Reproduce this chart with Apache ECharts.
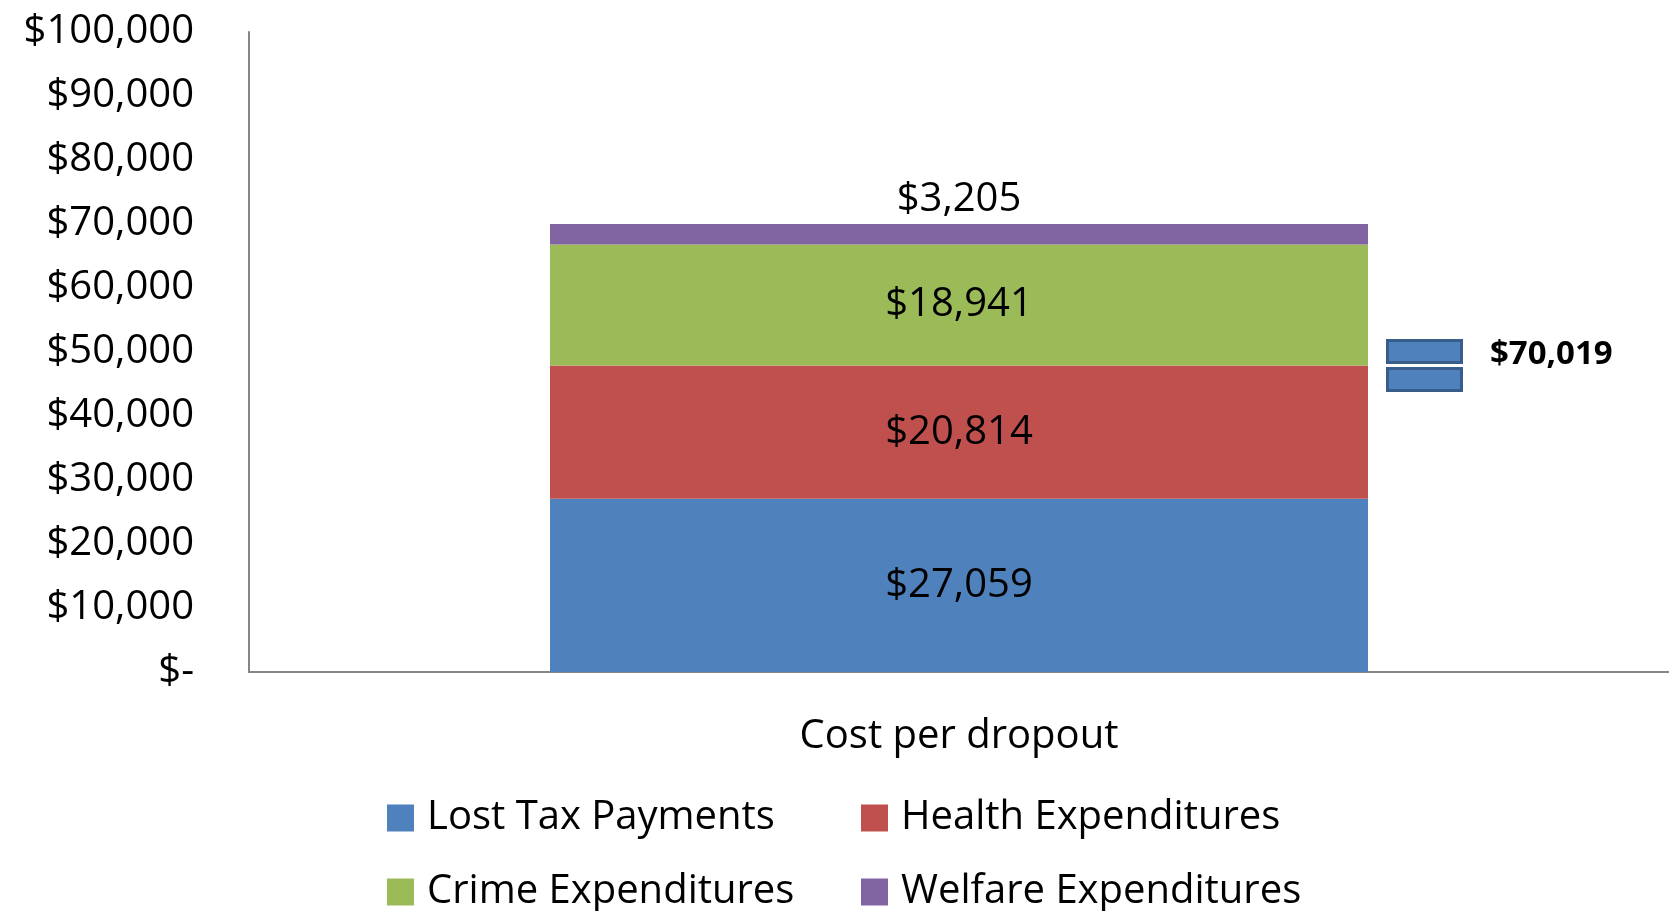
<!DOCTYPE html>
<html>
<head>
<meta charset="utf-8">
<script src="https://cdn.jsdelivr.net/npm/echarts@6/dist/echarts.min.js"></script>
<style>
  html, body { margin: 0; padding: 0; background: #fff; }
  #chart { width: 1669px; height: 911px; }
</style>
</head>
<body>
<div id="chart"></div>
<script>
const categories = ['Cost per dropout'];
const lostTax = [27059];
const health = [20814];
const crime = [18941];
const welfare = [3205];
const seriesNames = ['Lost Tax Payments', 'Health Expenditures', 'Crime Expenditures', 'Welfare Expenditures'];
const colors = ['#4f81bd', '#c0504d', '#9bbb59', '#8064a2'];

const total = lostTax[0] + health[0] + crime[0] + welfare[0];

const font = '"Open Sans", "Noto Sans", sans-serif';
const money = v => v === 0 ? '$-' : '$' + v.toLocaleString('en-US');

function barSeries(name, data, color, pos) {
    return {
        name: name,
        type: 'bar',
        stack: 'cost',
        data: data,
        barWidth: 818,
        itemStyle: { color: color },
        label: {
            show: true,
            position: pos,
            distance: 4,
            color: '#000',
            fontFamily: font,
            fontSize: 40,
            formatter: p => money(p.value)
        }
    };
}

function legendAt(i, left, top) {
    return {
        data: [seriesNames[i]],
        left: left,
        top: top,
        itemWidth: 27,
        itemHeight: 27,
        icon: 'rect',
        textStyle: { fontFamily: font, fontSize: 40, color: '#000', padding: [0, 0, 0, 8] }
    };
}

const chart = echarts.init(document.getElementById('chart'));
chart.setOption({
    animation: false,
    grid: { left: 249, right: 0, top: 32, bottom: 239, containLabel: false },
    legend: [
        legendAt(0, 382, 793),
        legendAt(1, 856, 793),
        legendAt(2, 382, 867),
        legendAt(3, 856, 867)
    ],
    xAxis: {
        type: 'category',
        data: categories,
        axisLine: { lineStyle: { color: '#868686', width: 2 } },
        axisTick: { show: false },
        axisLabel: { color: '#000', fontFamily: font, fontSize: 40, margin: 45 }
    },
    yAxis: {
        type: 'value',
        min: 0,
        max: 100000,
        interval: 10000,
        axisLine: { show: true, lineStyle: { color: '#868686', width: 2 } },
        axisTick: { show: false },
        splitLine: { show: false },
        axisLabel: { color: '#000', fontFamily: font, fontSize: 40, margin: 55, formatter: money }
    },
    series: [
        barSeries(seriesNames[0], lostTax, colors[0], 'inside'),
        barSeries(seriesNames[1], health, colors[1], 'inside'),
        barSeries(seriesNames[2], crime, colors[2], 'inside'),
        barSeries(seriesNames[3], welfare, colors[3], 'top')
    ],
    graphic: [
        { type: 'rect', left: 1386, top: 339, shape: { width: 74, height: 22 },
          style: { fill: '#4f81bd', stroke: '#385d8a', lineWidth: 3 } },
        { type: 'rect', left: 1386, top: 367, shape: { width: 74, height: 22 },
          style: { fill: '#4f81bd', stroke: '#385d8a', lineWidth: 3 } },
        { type: 'text', left: 1490, top: 338,
          style: { text: money(total), fontFamily: font, fontSize: 33, fontWeight: 'bold', fill: '#000' } }
    ]
});
</script>
</body>
</html>
